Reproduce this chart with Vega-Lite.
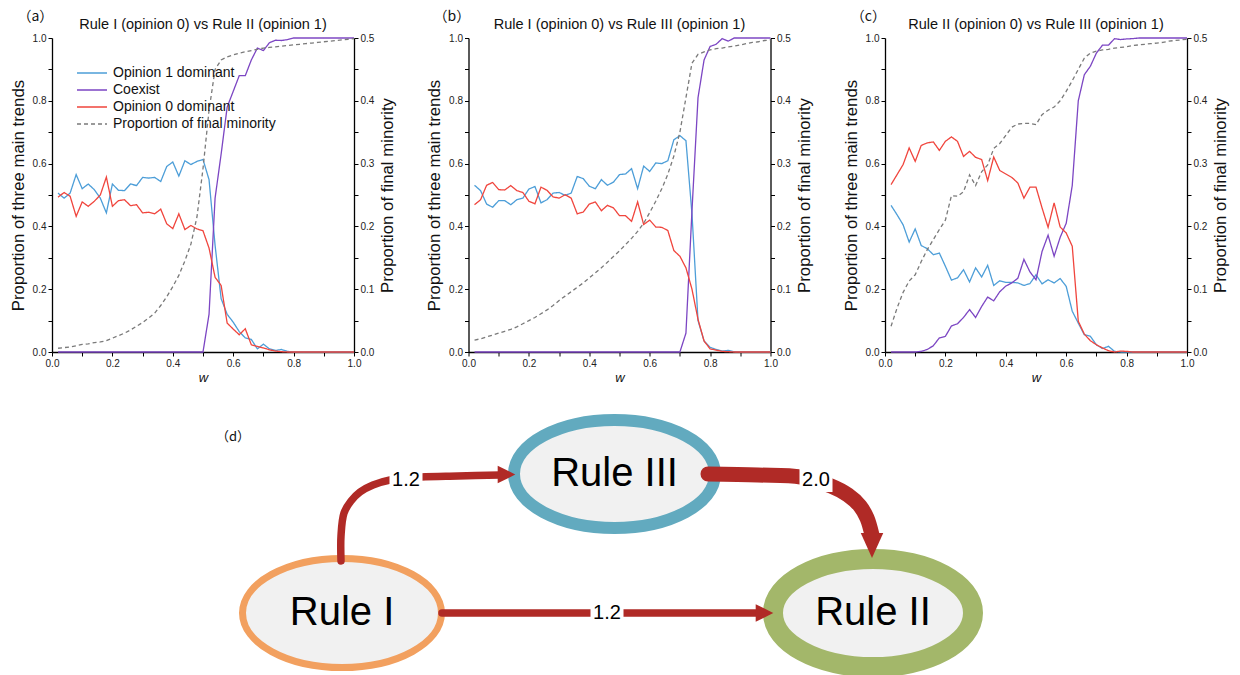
{
  "$schema": "https://vega.github.io/schema/vega-lite/v6.json",
  "background": "white",
  "padding": {"left": 10, "top": 9, "right": 5, "bottom": 0},
  "spacing": 12,
  "datasets": {
    "a": [
      {"w":0.02,"o1":0.506,"co":0,"o0":0.493,"m":0.006},{"w":0.04,"o1":0.49,"co":0,"o0":0.508,"m":0.007},{"w":0.06,"o1":0.506,"co":0,"o0":0.496,"m":0.008},{"w":0.08,"o1":0.565,"co":0,"o0":0.432,"m":0.010},{"w":0.10,"o1":0.52,"co":0,"o0":0.478,"m":0.012},
      {"w":0.12,"o1":0.535,"co":0,"o0":0.464,"m":0.013},{"w":0.14,"o1":0.517,"co":0,"o0":0.48,"m":0.015},{"w":0.16,"o1":0.49,"co":0,"o0":0.50,"m":0.016},{"w":0.18,"o1":0.443,"co":0,"o0":0.557,"m":0.018},{"w":0.20,"o1":0.535,"co":0,"o0":0.464,"m":0.022},
      {"w":0.22,"o1":0.515,"co":0,"o0":0.482,"m":0.026},{"w":0.24,"o1":0.514,"co":0,"o0":0.485,"m":0.030},{"w":0.26,"o1":0.535,"co":0,"o0":0.466,"m":0.035},{"w":0.28,"o1":0.53,"co":0,"o0":0.469,"m":0.041},{"w":0.30,"o1":0.556,"co":0,"o0":0.443,"m":0.047},
      {"w":0.32,"o1":0.554,"co":0,"o0":0.445,"m":0.054},{"w":0.34,"o1":0.556,"co":0,"o0":0.44,"m":0.062},{"w":0.36,"o1":0.543,"co":0,"o0":0.455,"m":0.074},{"w":0.38,"o1":0.591,"co":0,"o0":0.408,"m":0.088},{"w":0.40,"o1":0.605,"co":0,"o0":0.393,"m":0.104},
      {"w":0.42,"o1":0.56,"co":0,"o0":0.44,"m":0.122},{"w":0.44,"o1":0.609,"co":0,"o0":0.39,"m":0.145},{"w":0.46,"o1":0.597,"co":0,"o0":0.403,"m":0.172},{"w":0.48,"o1":0.607,"co":0,"o0":0.392,"m":0.215},{"w":0.50,"o1":0.613,"co":0,"o0":0.386,"m":0.292},
      {"w":0.52,"o1":0.549,"co":0.12,"o0":0.331,"m":0.385},{"w":0.54,"o1":0.34,"co":0.49,"o0":0.238,"m":0.45},{"w":0.56,"o1":0.17,"co":0.63,"o0":0.212,"m":0.465},{"w":0.58,"o1":0.12,"co":0.78,"o0":0.092,"m":0.47},{"w":0.60,"o1":0.095,"co":0.83,"o0":0.073,"m":0.473},
      {"w":0.62,"o1":0.065,"co":0.88,"o0":0.055,"m":0.476},{"w":0.64,"o1":0.045,"co":0.88,"o0":0.074,"m":0.478},{"w":0.66,"o1":0.04,"co":0.93,"o0":0.023,"m":0.48},{"w":0.68,"o1":0.01,"co":0.968,"o0":0.018,"m":0.482},{"w":0.70,"o1":0.025,"co":0.96,"o0":0.013,"m":0.484},
      {"w":0.72,"o1":0.01,"co":0.985,"o0":0.007,"m":0.485},{"w":0.74,"o1":0.005,"co":0.993,"o0":0.003,"m":0.486},{"w":0.76,"o1":0.008,"co":0.992,"o0":0.001,"m":0.487},{"w":0.78,"o1":0.002,"co":0.995,"o0":0,"m":0.488},{"w":0.80,"o1":0,"co":1,"o0":0,"m":0.489},
      {"w":0.82,"o1":0,"co":1,"o0":0,"m":0.49},{"w":0.84,"o1":0,"co":1,"o0":0,"m":0.491},{"w":0.86,"o1":0,"co":1,"o0":0,"m":0.492},{"w":0.88,"o1":0,"co":1,"o0":0,"m":0.493},{"w":0.90,"o1":0,"co":1,"o0":0,"m":0.494},
      {"w":0.92,"o1":0,"co":1,"o0":0,"m":0.495},{"w":0.94,"o1":0,"co":1,"o0":0,"m":0.496},{"w":0.96,"o1":0,"co":1,"o0":0,"m":0.497},{"w":0.98,"o1":0,"co":1,"o0":0,"m":0.498},{"w":1.00,"o1":0,"co":1,"o0":0,"m":0.499}
    ],
    "b": [
      {"w":0.02,"o1":0.531,"co":0,"o0":0.469,"m":0.019},{"w":0.04,"o1":0.514,"co":0,"o0":0.485,"m":0.021},{"w":0.06,"o1":0.471,"co":0,"o0":0.531,"m":0.024},{"w":0.08,"o1":0.461,"co":0,"o0":0.54,"m":0.027},{"w":0.10,"o1":0.482,"co":0,"o0":0.517,"m":0.030},
      {"w":0.12,"o1":0.482,"co":0,"o0":0.516,"m":0.033},{"w":0.14,"o1":0.469,"co":0,"o0":0.53,"m":0.036},{"w":0.16,"o1":0.485,"co":0,"o0":0.514,"m":0.040},{"w":0.18,"o1":0.49,"co":0,"o0":0.508,"m":0.045},{"w":0.20,"o1":0.519,"co":0,"o0":0.48,"m":0.050},
      {"w":0.22,"o1":0.527,"co":0,"o0":0.472,"m":0.055},{"w":0.24,"o1":0.475,"co":0,"o0":0.525,"m":0.061},{"w":0.26,"o1":0.485,"co":0,"o0":0.515,"m":0.067},{"w":0.28,"o1":0.506,"co":0,"o0":0.494,"m":0.074},{"w":0.30,"o1":0.508,"co":0,"o0":0.49,"m":0.082},
      {"w":0.32,"o1":0.499,"co":0,"o0":0.501,"m":0.089},{"w":0.34,"o1":0.506,"co":0,"o0":0.49,"m":0.096},{"w":0.36,"o1":0.559,"co":0,"o0":0.44,"m":0.103},{"w":0.38,"o1":0.552,"co":0,"o0":0.446,"m":0.110},{"w":0.40,"o1":0.528,"co":0,"o0":0.471,"m":0.118},
      {"w":0.42,"o1":0.52,"co":0,"o0":0.478,"m":0.126},{"w":0.44,"o1":0.549,"co":0,"o0":0.45,"m":0.134},{"w":0.46,"o1":0.531,"co":0,"o0":0.467,"m":0.143},{"w":0.48,"o1":0.541,"co":0,"o0":0.459,"m":0.152},{"w":0.50,"o1":0.565,"co":0,"o0":0.434,"m":0.161},
      {"w":0.52,"o1":0.567,"co":0,"o0":0.434,"m":0.171},{"w":0.54,"o1":0.584,"co":0,"o0":0.416,"m":0.181},{"w":0.56,"o1":0.52,"co":0,"o0":0.478,"m":0.192},{"w":0.58,"o1":0.592,"co":0,"o0":0.406,"m":0.205},{"w":0.60,"o1":0.575,"co":0,"o0":0.42,"m":0.222},
      {"w":0.62,"o1":0.602,"co":0,"o0":0.398,"m":0.240},{"w":0.64,"o1":0.60,"co":0,"o0":0.397,"m":0.260},{"w":0.66,"o1":0.609,"co":0,"o0":0.387,"m":0.283},{"w":0.68,"o1":0.676,"co":0,"o0":0.323,"m":0.312},{"w":0.70,"o1":0.689,"co":0,"o0":0.305,"m":0.350},
      {"w":0.72,"o1":0.673,"co":0.06,"o0":0.268,"m":0.405},{"w":0.74,"o1":0.44,"co":0.45,"o0":0.2,"m":0.46},{"w":0.76,"o1":0.10,"co":0.81,"o0":0.104,"m":0.474},{"w":0.78,"o1":0.035,"co":0.93,"o0":0.035,"m":0.478},{"w":0.80,"o1":0.015,"co":0.973,"o0":0.01,"m":0.481},
      {"w":0.82,"o1":0.008,"co":0.98,"o0":0.006,"m":0.483},{"w":0.84,"o1":0.003,"co":0.998,"o0":0.002,"m":0.484},{"w":0.86,"o1":0.005,"co":0.99,"o0":0.001,"m":0.486},{"w":0.88,"o1":0.001,"co":1,"o0":0,"m":0.487},{"w":0.90,"o1":0,"co":1,"o0":0,"m":0.489},
      {"w":0.92,"o1":0,"co":1,"o0":0,"m":0.491},{"w":0.94,"o1":0,"co":1,"o0":0,"m":0.493},{"w":0.96,"o1":0,"co":1,"o0":0,"m":0.494},{"w":0.98,"o1":0,"co":1,"o0":0,"m":0.496},{"w":1.00,"o1":0,"co":1,"o0":0,"m":0.497}
    ],
    "c": [
      {"w":0.02,"o1":0.467,"co":0,"o0":0.533,"m":0.041},{"w":0.04,"o1":0.437,"co":0,"o0":0.565,"m":0.07},{"w":0.06,"o1":0.405,"co":0,"o0":0.597,"m":0.095},{"w":0.08,"o1":0.35,"co":0,"o0":0.65,"m":0.113},{"w":0.10,"o1":0.392,"co":0,"o0":0.607,"m":0.123},
      {"w":0.12,"o1":0.339,"co":0.002,"o0":0.658,"m":0.144},{"w":0.14,"o1":0.329,"co":0.008,"o0":0.666,"m":0.163},{"w":0.16,"o1":0.31,"co":0.02,"o0":0.669,"m":0.179},{"w":0.18,"o1":0.315,"co":0.045,"o0":0.642,"m":0.195},{"w":0.20,"o1":0.273,"co":0.05,"o0":0.671,"m":0.21},
      {"w":0.22,"o1":0.229,"co":0.083,"o0":0.685,"m":0.249},{"w":0.24,"o1":0.236,"co":0.09,"o0":0.671,"m":0.248},{"w":0.26,"o1":0.262,"co":0.11,"o0":0.623,"m":0.255},{"w":0.28,"o1":0.223,"co":0.135,"o0":0.639,"m":0.282},{"w":0.30,"o1":0.268,"co":0.11,"o0":0.62,"m":0.265},
      {"w":0.32,"o1":0.239,"co":0.145,"o0":0.613,"m":0.287},{"w":0.34,"o1":0.276,"co":0.175,"o0":0.546,"m":0.298},{"w":0.36,"o1":0.212,"co":0.163,"o0":0.621,"m":0.324},{"w":0.38,"o1":0.227,"co":0.192,"o0":0.578,"m":0.332},{"w":0.40,"o1":0.222,"co":0.21,"o0":0.567,"m":0.345},
      {"w":0.42,"o1":0.222,"co":0.22,"o0":0.556,"m":0.358},{"w":0.44,"o1":0.22,"co":0.235,"o0":0.538,"m":0.363},{"w":0.46,"o1":0.212,"co":0.295,"o0":0.49,"m":0.364},{"w":0.48,"o1":0.218,"co":0.255,"o0":0.525,"m":0.364},{"w":0.50,"o1":0.246,"co":0.23,"o0":0.525,"m":0.362},
      {"w":0.52,"o1":0.217,"co":0.32,"o0":0.459,"m":0.378},{"w":0.54,"o1":0.23,"co":0.372,"o0":0.397,"m":0.385},{"w":0.56,"o1":0.22,"co":0.305,"o0":0.475,"m":0.39},{"w":0.58,"o1":0.234,"co":0.365,"o0":0.398,"m":0.40},{"w":0.60,"o1":0.209,"co":0.41,"o0":0.379,"m":0.415},
      {"w":0.62,"o1":0.13,"co":0.53,"o0":0.337,"m":0.432},{"w":0.64,"o1":0.092,"co":0.80,"o0":0.098,"m":0.45},{"w":0.66,"o1":0.055,"co":0.883,"o0":0.057,"m":0.468},{"w":0.68,"o1":0.05,"co":0.91,"o0":0.036,"m":0.476},{"w":0.70,"o1":0.023,"co":0.952,"o0":0.023,"m":0.479},
      {"w":0.72,"o1":0.011,"co":0.977,"o0":0.013,"m":0.481},{"w":0.74,"o1":0.018,"co":0.977,"o0":0.004,"m":0.482},{"w":0.76,"o1":0.002,"co":0.998,"o0":0,"m":0.484},{"w":0.78,"o1":0,"co":0.995,"o0":0.003,"m":0.485},{"w":0.80,"o1":0,"co":0.997,"o0":0.002,"m":0.486},
      {"w":0.82,"o1":0,"co":0.998,"o0":0,"m":0.488},{"w":0.84,"o1":0,"co":1,"o0":0,"m":0.489},{"w":0.86,"o1":0,"co":1,"o0":0,"m":0.49},{"w":0.88,"o1":0,"co":1,"o0":0,"m":0.491},{"w":0.90,"o1":0,"co":1,"o0":0,"m":0.492},
      {"w":0.92,"o1":0,"co":1,"o0":0,"m":0.493},{"w":0.94,"o1":0,"co":1,"o0":0,"m":0.495},{"w":0.96,"o1":0,"co":1,"o0":0,"m":0.496},{"w":0.98,"o1":0,"co":1,"o0":0,"m":0.497},{"w":1.00,"o1":0,"co":1,"o0":0,"m":0.498}
    ],
    "nodes": [
      {"name":"Rule I","x":290,"y":63},
      {"name":"Rule III","x":562.5,"y":202},
      {"name":"Rule II","x":821,"y":63}
    ],
    "edges": [
      {"edge":"I-III","i":0,"x":289,"y":115},{"edge":"I-III","i":1,"x":289,"y":140},{"edge":"I-III","i":2,"x":292,"y":163},{"edge":"I-III","i":3,"x":299,"y":175},{"edge":"I-III","i":4,"x":308,"y":184},
      {"edge":"I-III","i":5,"x":321,"y":191},{"edge":"I-III","i":6,"x":338,"y":196},{"edge":"I-III","i":7,"x":369,"y":199},{"edge":"I-III","i":8,"x":406,"y":200},{"edge":"I-III","i":9,"x":448,"y":201},
      {"edge":"I-II","i":0,"x":390,"y":63},{"edge":"I-II","i":1,"x":706,"y":63},
      {"edge":"III-II","i":0,"x":656,"y":202},{"edge":"III-II","i":1,"x":706,"y":201},{"edge":"III-II","i":2,"x":749,"y":199},{"edge":"III-II","i":3,"x":779,"y":190},
      {"edge":"III-II","i":4,"x":796,"y":181},{"edge":"III-II","i":5,"x":808,"y":170},{"edge":"III-II","i":6,"x":815,"y":158},{"edge":"III-II","i":7,"x":820,"y":141}
    ],
    "heads": [
      {"edge":"I-III","x":454.5,"y":201.5},
      {"edge":"I-II","x":712.5,"y":63},
      {"edge":"III-II","x":820,"y":130.5}
    ],
    "weights": [
      {"edge":"I-III","label":"1.2","x":354,"y":196},
      {"edge":"I-II","label":"1.2","x":555,"y":63},
      {"edge":"III-II","label":"2.0","x":764,"y":196}
    ]
  },
  "vconcat": [
    {
      "hconcat": [
        {
          "width": 302, "height": 314,
          "data": {"name": "a"},
          "layer": [
            {"layer": [
              {"transform": [{"fold": ["o1","co","o0"], "as": ["series","p"]}],
               "mark": {"type": "line", "strokeWidth": 1.3},
               "encoding": {
                 "x": {"field": "w", "type": "quantitative", "scale": {"domain": [0,1], "nice": false}, "axis": {"values": [0,0.1,0.2,0.3,0.4,0.5,0.6,0.7,0.8,0.9,1], "labelExpr": "round(datum.value*10)%2==0 ? format(datum.value,'.1f') : ''", "title": "w", "titleFontStyle": "italic", "titleFontSize": 13, "titlePadding": 3, "labelFlush": false, "labelOverlap": false}},
                 "y": {"field": "p", "type": "quantitative", "scale": {"domain": [0,1], "nice": false}, "axis": {"values": [0,0.1,0.2,0.3,0.4,0.5,0.6,0.7,0.8,0.9,1], "labelExpr": "round(datum.value*10)%2==0 ? format(datum.value,'.1f') : ''", "title": "Proportion of three main trends", "titlePadding": 5, "labelOverlap": false}},
                 "color": {"field": "series", "type": "nominal", "scale": {"domain": ["o1","co","o0","m"], "range": ["#4d9ed8","#7c46c3","#f0453d","#7a7a7a"]},
                   "legend": {"orient": "none", "legendX": 24, "legendY": 26.5, "title": null, "labelFont": "Liberation Sans", "labelFontSize": 14, "labelColor": "#111", "labelLimit": 400, "symbolType": "stroke", "symbolSize": 900, "symbolStrokeWidth": 1.5, "clipHeight": 17, "rowPadding": 0, "padding": 0, "labelOffset": 5, "labelExpr": "datum.label=='o1' ? 'Opinion 1 dominant' : datum.label=='co' ? 'Coexist' : datum.label=='o0' ? 'Opinion 0 dominant' : 'Proportion of final minority'"}},
                 "strokeDash": {"field": "series", "type": "nominal", "scale": {"domain": ["o1","co","o0","m"], "range": [[1,0],[1,0],[1,0],[4,3]]},
                   "legend": {"orient": "none", "legendX": 24, "legendY": 26.5, "title": null, "labelFont": "Liberation Sans", "labelFontSize": 14, "labelColor": "#111", "labelLimit": 400, "symbolType": "stroke", "symbolSize": 900, "symbolStrokeWidth": 1.5, "clipHeight": 17, "rowPadding": 0, "padding": 0, "labelOffset": 5, "labelExpr": "datum.label=='o1' ? 'Opinion 1 dominant' : datum.label=='co' ? 'Coexist' : datum.label=='o0' ? 'Opinion 0 dominant' : 'Proportion of final minority'"}}
               }},
              {"data": {"values": [{}]},
               "mark": {"type": "text", "font": "Noto Sans CJK SC", "fontSize": 14, "align": "center", "baseline": "middle", "color": "#111"},
               "encoding": {
                 "x": {"datum": -0.055, "type": "quantitative", "scale": {"domain": [0,1], "nice": false}, "axis": {"values": [0,0.1,0.2,0.3,0.4,0.5,0.6,0.7,0.8,0.9,1], "labelExpr": "round(datum.value*10)%2==0 ? format(datum.value,'.1f') : ''", "title": "w", "titleFontStyle": "italic", "titleFontSize": 13, "titlePadding": 3, "labelFlush": false, "labelOverlap": false}},
                 "y": {"datum": 1.067, "type": "quantitative", "scale": {"domain": [0,1], "nice": false}, "axis": {"values": [0,0.1,0.2,0.3,0.4,0.5,0.6,0.7,0.8,0.9,1], "labelExpr": "round(datum.value*10)%2==0 ? format(datum.value,'.1f') : ''", "title": "Proportion of three main trends", "titlePadding": 5, "labelOverlap": false}},
                 "text": {"value": "（a）"}
               }},
              {"data": {"values": [{}]},
               "mark": {"type": "text", "font": "Liberation Sans", "fontSize": 14.5, "align": "center", "baseline": "middle", "color": "#111"},
               "encoding": {
                 "x": {"datum": 0.5, "type": "quantitative", "scale": {"domain": [0,1], "nice": false}, "axis": {"values": [0,0.1,0.2,0.3,0.4,0.5,0.6,0.7,0.8,0.9,1], "labelExpr": "round(datum.value*10)%2==0 ? format(datum.value,'.1f') : ''", "title": "w", "titleFontStyle": "italic", "titleFontSize": 13, "titlePadding": 3, "labelFlush": false, "labelOverlap": false}},
                 "y": {"datum": 1.041, "type": "quantitative", "scale": {"domain": [0,1], "nice": false}, "axis": {"values": [0,0.1,0.2,0.3,0.4,0.5,0.6,0.7,0.8,0.9,1], "labelExpr": "round(datum.value*10)%2==0 ? format(datum.value,'.1f') : ''", "title": "Proportion of three main trends", "titlePadding": 5, "labelOverlap": false}},
                 "text": {"value": "Rule I (opinion 0) vs Rule II (opinion 1)"}
               }}
            ]},
            {"mark": {"type": "line", "strokeWidth": 1.3},
             "encoding": {
               "x": {"field": "w", "type": "quantitative", "scale": {"domain": [0,1], "nice": false}, "axis": {"values": [0,0.1,0.2,0.3,0.4,0.5,0.6,0.7,0.8,0.9,1], "labelExpr": "round(datum.value*10)%2==0 ? format(datum.value,'.1f') : ''", "title": "w", "titleFontStyle": "italic", "titleFontSize": 13, "titlePadding": 3, "labelFlush": false, "labelOverlap": false}},
               "y": {"field": "m", "type": "quantitative", "scale": {"domain": [0,0.5], "nice": false}, "axis": {"orient": "right", "values": [0,0.05,0.1,0.15,0.2,0.25,0.3,0.35,0.4,0.45,0.5], "labelExpr": "round(datum.value*20)%2==0 ? format(datum.value,'.1f') : ''", "title": "Proportion of final minority", "titleAngle": 270, "titleBaseline": "top", "titlePadding": 6, "labelOverlap": false}},
               "color": {"datum": "m", "type": "nominal", "scale": {"domain": ["o1","co","o0","m"], "range": ["#4d9ed8","#7c46c3","#f0453d","#7a7a7a"]}, "legend": null},
               "strokeDash": {"datum": "m", "type": "nominal", "scale": {"domain": ["o1","co","o0","m"], "range": [[1,0],[1,0],[1,0],[4,3]]}, "legend": null}
             }}
          ],
          "resolve": {"scale": {"y": "independent"}}
        },
        {
          "width": 302, "height": 314,
          "data": {"name": "b"},
          "layer": [
            {"layer": [
              {"transform": [{"fold": ["o1","co","o0"], "as": ["series","p"]}],
               "mark": {"type": "line", "strokeWidth": 1.3},
               "encoding": {
                 "x": {"field": "w", "type": "quantitative", "scale": {"domain": [0,1], "nice": false}, "axis": {"values": [0,0.1,0.2,0.3,0.4,0.5,0.6,0.7,0.8,0.9,1], "labelExpr": "round(datum.value*10)%2==0 ? format(datum.value,'.1f') : ''", "title": "w", "titleFontStyle": "italic", "titleFontSize": 13, "titlePadding": 3, "labelFlush": false, "labelOverlap": false}},
                 "y": {"field": "p", "type": "quantitative", "scale": {"domain": [0,1], "nice": false}, "axis": {"values": [0,0.1,0.2,0.3,0.4,0.5,0.6,0.7,0.8,0.9,1], "labelExpr": "round(datum.value*10)%2==0 ? format(datum.value,'.1f') : ''", "title": "Proportion of three main trends", "titlePadding": 5, "labelOverlap": false}},
                 "color": {"field": "series", "type": "nominal", "scale": {"domain": ["o1","co","o0","m"], "range": ["#4d9ed8","#7c46c3","#f0453d","#7a7a7a"]}, "legend": null},
                 "strokeDash": {"field": "series", "type": "nominal", "scale": {"domain": ["o1","co","o0","m"], "range": [[1,0],[1,0],[1,0],[4,3]]}, "legend": null}
               }},
              {"data": {"values": [{}]},
               "mark": {"type": "text", "font": "Noto Sans CJK SC", "fontSize": 14, "align": "center", "baseline": "middle", "color": "#111"},
               "encoding": {
                 "x": {"datum": -0.055, "type": "quantitative", "scale": {"domain": [0,1], "nice": false}, "axis": {"values": [0,0.1,0.2,0.3,0.4,0.5,0.6,0.7,0.8,0.9,1], "labelExpr": "round(datum.value*10)%2==0 ? format(datum.value,'.1f') : ''", "title": "w", "titleFontStyle": "italic", "titleFontSize": 13, "titlePadding": 3, "labelFlush": false, "labelOverlap": false}},
                 "y": {"datum": 1.067, "type": "quantitative", "scale": {"domain": [0,1], "nice": false}, "axis": {"values": [0,0.1,0.2,0.3,0.4,0.5,0.6,0.7,0.8,0.9,1], "labelExpr": "round(datum.value*10)%2==0 ? format(datum.value,'.1f') : ''", "title": "Proportion of three main trends", "titlePadding": 5, "labelOverlap": false}},
                 "text": {"value": "（b）"}
               }},
              {"data": {"values": [{}]},
               "mark": {"type": "text", "font": "Liberation Sans", "fontSize": 14.5, "align": "center", "baseline": "middle", "color": "#111"},
               "encoding": {
                 "x": {"datum": 0.5, "type": "quantitative", "scale": {"domain": [0,1], "nice": false}, "axis": {"values": [0,0.1,0.2,0.3,0.4,0.5,0.6,0.7,0.8,0.9,1], "labelExpr": "round(datum.value*10)%2==0 ? format(datum.value,'.1f') : ''", "title": "w", "titleFontStyle": "italic", "titleFontSize": 13, "titlePadding": 3, "labelFlush": false, "labelOverlap": false}},
                 "y": {"datum": 1.041, "type": "quantitative", "scale": {"domain": [0,1], "nice": false}, "axis": {"values": [0,0.1,0.2,0.3,0.4,0.5,0.6,0.7,0.8,0.9,1], "labelExpr": "round(datum.value*10)%2==0 ? format(datum.value,'.1f') : ''", "title": "Proportion of three main trends", "titlePadding": 5, "labelOverlap": false}},
                 "text": {"value": "Rule I (opinion 0) vs Rule III (opinion 1)"}
               }}
            ]},
            {"mark": {"type": "line", "strokeWidth": 1.3},
             "encoding": {
               "x": {"field": "w", "type": "quantitative", "scale": {"domain": [0,1], "nice": false}, "axis": {"values": [0,0.1,0.2,0.3,0.4,0.5,0.6,0.7,0.8,0.9,1], "labelExpr": "round(datum.value*10)%2==0 ? format(datum.value,'.1f') : ''", "title": "w", "titleFontStyle": "italic", "titleFontSize": 13, "titlePadding": 3, "labelFlush": false, "labelOverlap": false}},
               "y": {"field": "m", "type": "quantitative", "scale": {"domain": [0,0.5], "nice": false}, "axis": {"orient": "right", "values": [0,0.05,0.1,0.15,0.2,0.25,0.3,0.35,0.4,0.45,0.5], "labelExpr": "round(datum.value*20)%2==0 ? format(datum.value,'.1f') : ''", "title": "Proportion of final minority", "titleAngle": 270, "titleBaseline": "top", "titlePadding": 6, "labelOverlap": false}},
               "color": {"datum": "m", "type": "nominal", "scale": {"domain": ["o1","co","o0","m"], "range": ["#4d9ed8","#7c46c3","#f0453d","#7a7a7a"]}, "legend": null},
               "strokeDash": {"datum": "m", "type": "nominal", "scale": {"domain": ["o1","co","o0","m"], "range": [[1,0],[1,0],[1,0],[4,3]]}, "legend": null}
             }}
          ],
          "resolve": {"scale": {"y": "independent"}}
        },
        {
          "width": 302, "height": 314,
          "data": {"name": "c"},
          "layer": [
            {"layer": [
              {"transform": [{"fold": ["o1","co","o0"], "as": ["series","p"]}],
               "mark": {"type": "line", "strokeWidth": 1.3},
               "encoding": {
                 "x": {"field": "w", "type": "quantitative", "scale": {"domain": [0,1], "nice": false}, "axis": {"values": [0,0.1,0.2,0.3,0.4,0.5,0.6,0.7,0.8,0.9,1], "labelExpr": "round(datum.value*10)%2==0 ? format(datum.value,'.1f') : ''", "title": "w", "titleFontStyle": "italic", "titleFontSize": 13, "titlePadding": 3, "labelFlush": false, "labelOverlap": false}},
                 "y": {"field": "p", "type": "quantitative", "scale": {"domain": [0,1], "nice": false}, "axis": {"values": [0,0.1,0.2,0.3,0.4,0.5,0.6,0.7,0.8,0.9,1], "labelExpr": "round(datum.value*10)%2==0 ? format(datum.value,'.1f') : ''", "title": "Proportion of three main trends", "titlePadding": 5, "labelOverlap": false}},
                 "color": {"field": "series", "type": "nominal", "scale": {"domain": ["o1","co","o0","m"], "range": ["#4d9ed8","#7c46c3","#f0453d","#7a7a7a"]}, "legend": null},
                 "strokeDash": {"field": "series", "type": "nominal", "scale": {"domain": ["o1","co","o0","m"], "range": [[1,0],[1,0],[1,0],[4,3]]}, "legend": null}
               }},
              {"data": {"values": [{}]},
               "mark": {"type": "text", "font": "Noto Sans CJK SC", "fontSize": 14, "align": "center", "baseline": "middle", "color": "#111"},
               "encoding": {
                 "x": {"datum": -0.055, "type": "quantitative", "scale": {"domain": [0,1], "nice": false}, "axis": {"values": [0,0.1,0.2,0.3,0.4,0.5,0.6,0.7,0.8,0.9,1], "labelExpr": "round(datum.value*10)%2==0 ? format(datum.value,'.1f') : ''", "title": "w", "titleFontStyle": "italic", "titleFontSize": 13, "titlePadding": 3, "labelFlush": false, "labelOverlap": false}},
                 "y": {"datum": 1.067, "type": "quantitative", "scale": {"domain": [0,1], "nice": false}, "axis": {"values": [0,0.1,0.2,0.3,0.4,0.5,0.6,0.7,0.8,0.9,1], "labelExpr": "round(datum.value*10)%2==0 ? format(datum.value,'.1f') : ''", "title": "Proportion of three main trends", "titlePadding": 5, "labelOverlap": false}},
                 "text": {"value": "（c）"}
               }},
              {"data": {"values": [{}]},
               "mark": {"type": "text", "font": "Liberation Sans", "fontSize": 14.5, "align": "center", "baseline": "middle", "color": "#111"},
               "encoding": {
                 "x": {"datum": 0.5, "type": "quantitative", "scale": {"domain": [0,1], "nice": false}, "axis": {"values": [0,0.1,0.2,0.3,0.4,0.5,0.6,0.7,0.8,0.9,1], "labelExpr": "round(datum.value*10)%2==0 ? format(datum.value,'.1f') : ''", "title": "w", "titleFontStyle": "italic", "titleFontSize": 13, "titlePadding": 3, "labelFlush": false, "labelOverlap": false}},
                 "y": {"datum": 1.041, "type": "quantitative", "scale": {"domain": [0,1], "nice": false}, "axis": {"values": [0,0.1,0.2,0.3,0.4,0.5,0.6,0.7,0.8,0.9,1], "labelExpr": "round(datum.value*10)%2==0 ? format(datum.value,'.1f') : ''", "title": "Proportion of three main trends", "titlePadding": 5, "labelOverlap": false}},
                 "text": {"value": "Rule II (opinion 0) vs Rule III (opinion 1)"}
               }}
            ]},
            {"mark": {"type": "line", "strokeWidth": 1.3},
             "encoding": {
               "x": {"field": "w", "type": "quantitative", "scale": {"domain": [0,1], "nice": false}, "axis": {"values": [0,0.1,0.2,0.3,0.4,0.5,0.6,0.7,0.8,0.9,1], "labelExpr": "round(datum.value*10)%2==0 ? format(datum.value,'.1f') : ''", "title": "w", "titleFontStyle": "italic", "titleFontSize": 13, "titlePadding": 3, "labelFlush": false, "labelOverlap": false}},
               "y": {"field": "m", "type": "quantitative", "scale": {"domain": [0,0.5], "nice": false}, "axis": {"orient": "right", "values": [0,0.05,0.1,0.15,0.2,0.25,0.3,0.35,0.4,0.45,0.5], "labelExpr": "round(datum.value*20)%2==0 ? format(datum.value,'.1f') : ''", "title": "Proportion of final minority", "titleAngle": 270, "titleBaseline": "top", "titlePadding": 6, "labelOverlap": false}},
               "color": {"datum": "m", "type": "nominal", "scale": {"domain": ["o1","co","o0","m"], "range": ["#4d9ed8","#7c46c3","#f0453d","#7a7a7a"]}, "legend": null},
               "strokeDash": {"datum": "m", "type": "nominal", "scale": {"domain": ["o1","co","o0","m"], "range": [[1,0],[1,0],[1,0],[4,3]]}, "legend": null}
             }}
          ],
          "resolve": {"scale": {"y": "independent"}}
        }
      ],
      "spacing": 114.5,
      "bounds": "flush",
      "resolve": {"scale": {"color": "independent", "strokeDash": "independent"}}
    },
    {
      "width": 1135, "height": 275,
      "layer": [
        {
          "encoding": {
            "x": {"field": "x", "type": "quantitative", "scale": {"domain": [0,1135], "nice": false, "zero": false}, "axis": null},
            "y": {"field": "y", "type": "quantitative", "scale": {"domain": [0,275], "nice": false, "zero": false}, "axis": null}
          },
          "layer": [
            {"data": {"name": "nodes"}, "transform": [{"filter": "datum.name == 'Rule I'"}],
             "mark": {"type": "point", "shape": "M-1,0A1,0.548,0,1,1,1,0A1,0.548,0,1,1,-1,0Z", "size": 39601, "filled": true, "fill": "#f1f1f1", "stroke": "#f2a05f", "strokeWidth": 7, "opacity": 1}},
            {"data": {"name": "nodes"}, "transform": [{"filter": "datum.name == 'Rule III'"}],
             "mark": {"type": "point", "shape": "M-1,0A1,0.537,0,1,1,1,0A1,0.537,0,1,1,-1,0Z", "size": 40401, "filled": true, "fill": "#f1f1f1", "stroke": "#62aabf", "strokeWidth": 12, "opacity": 1}},
            {"data": {"name": "nodes"}, "transform": [{"filter": "datum.name == 'Rule II'"}],
             "mark": {"type": "point", "shape": "M-1,0A1,0.54,0,1,1,1,0A1,0.54,0,1,1,-1,0Z", "size": 40000, "filled": true, "fill": "#f1f1f1", "stroke": "#a3b76a", "strokeWidth": 20, "opacity": 1}},
            {"data": {"name": "nodes"},
             "mark": {"type": "text", "font": "Liberation Sans", "fontSize": 40, "color": "#000", "align": "center", "baseline": "middle"},
             "encoding": {"text": {"field": "name"}}},
            {"data": {"name": "edges"}, "transform": [{"filter": "datum.edge != 'III-II'"}],
             "mark": {"type": "line", "interpolate": "catmull-rom", "stroke": "#b02a26", "strokeWidth": 7.5, "strokeCap": "round"},
             "encoding": {"detail": {"field": "edge"}, "order": {"field": "i", "type": "quantitative"}}},
            {"data": {"name": "edges"}, "transform": [{"filter": "datum.edge == 'III-II'"}],
             "mark": {"type": "line", "interpolate": "catmull-rom", "stroke": "#b02a26", "strokeWidth": 15, "strokeCap": "round"},
             "encoding": {"detail": {"field": "edge"}, "order": {"field": "i", "type": "quantitative"}}},
            {"data": {"name": "heads"}, "transform": [{"filter": "datum.edge != 'III-II'"}],
             "mark": {"type": "point", "shape": "M-1,-1L1,0L-1,1Z", "size": 310, "filled": true, "fill": "#b02a26", "strokeWidth": 0, "opacity": 1}},
            {"data": {"name": "heads"}, "transform": [{"filter": "datum.edge == 'III-II'"}],
             "mark": {"type": "point", "shape": "M-0.9,-1L0.9,-1L0,1Z", "size": 625, "filled": true, "fill": "#b02a26", "strokeWidth": 0, "opacity": 1}},
            {"data": {"name": "weights"},
             "mark": {"type": "point", "shape": "M-1,-0.72L1,-0.72L1,0.72L-1,0.72Z", "size": 1089, "filled": true, "fill": "#ffffff", "strokeWidth": 0, "opacity": 1}},
            {"data": {"name": "weights"},
             "mark": {"type": "text", "font": "Liberation Sans", "fontSize": 20, "color": "#000", "align": "center", "baseline": "middle"},
             "encoding": {"text": {"field": "label"}}}
          ]
        },
        {"data": {"values": [{}]},
         "mark": {"type": "text", "font": "Noto Sans CJK SC", "fontSize": 13, "color": "#111", "align": "center", "baseline": "middle", "text": "（d）"},
         "encoding": {
           "x": {"datum": 181, "type": "quantitative", "scale": {"domain": [0,1135], "nice": false, "zero": false}, "axis": null},
           "y": {"datum": 239, "type": "quantitative", "scale": {"domain": [0,275], "nice": false, "zero": false}, "axis": null}
         }}
      ]
    }
  ],
  "config": {
    "view": {"stroke": null},
    "font": "Liberation Sans",
    "axis": {"domainColor": "#000", "domainWidth": 1.3, "tickColor": "#000", "tickSize": 4, "tickWidth": 1, "labelFont": "Liberation Sans", "labelFontSize": 10, "labelColor": "#222", "labelPadding": 2, "titleFont": "Liberation Sans", "titleFontSize": 16.8, "titleFontWeight": "normal", "titleColor": "#111", "grid": false}
  }
}
